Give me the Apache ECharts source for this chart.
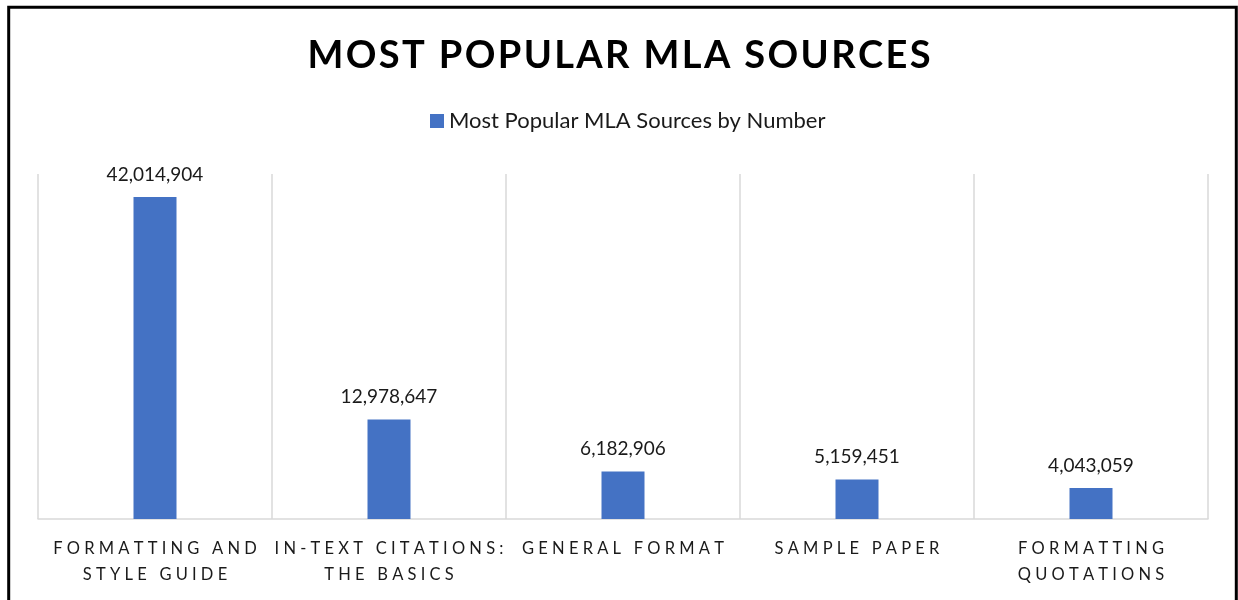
<!DOCTYPE html>
<html>
<head>
<meta charset="utf-8">
<title>Most Popular MLA Sources</title>
<script src="https://cdn.jsdelivr.net/npm/echarts@6/dist/echarts.min.js"></script>
<style>
  html, body { margin: 0; padding: 0; background: #fff; }
  #chart { width: 1238px; height: 600px; }
</style>
</head>
<body>
<div id="chart"></div>
<script>
  // data
  var categories = ['FORMATTING AND\nSTYLE GUIDE', 'IN-TEXT CITATIONS:\nTHE BASICS', 'GENERAL FORMAT', 'SAMPLE PAPER', 'FORMATTING\nQUOTATIONS'];
  var visits = [42014904, 12978647, 6182906, 5159451, 4043059];
  var seriesName = 'Most Popular MLA Sources by Number';
  var titleText = 'MOST POPULAR MLA SOURCES';
  var yMax = 45000000;

  // spread letters out like the wide tracking of the original axis labels
  function spaced(s) {
    return s.split('\n').map(function (line) {
      return line.split(' ').map(function (w) { return w.split('').join(' '); }).join('   ');
    }).join('\n');
  }
  // light tracking for the title (hair spaces)
  function tracked(s) {
    return s.split('').join('\u200A');
  }

  var chart = echarts.init(document.getElementById('chart'));
  var option = {
    backgroundColor: '#fff',
    textStyle: { fontFamily: 'Lato' },
    title: {
      text: tracked(titleText),
      left: 'center',
      top: 32,
      textStyle: { fontFamily: 'Lato', fontSize: 38, fontWeight: 'bold', color: '#000' }
    },
    legend: {
      data: [seriesName],
      left: 425,
      top: 105,
      icon: 'rect',
      itemWidth: 14,
      itemHeight: 14,
      itemGap: 5,
      textStyle: { fontFamily: 'Lato', fontSize: 22, color: '#1a1a1a' }
    },
    grid: { left: 38, right: 30, top: 174, bottom: 81 },
    xAxis: {
      type: 'category',
      data: categories,
      axisLine: { lineStyle: { color: '#d9d9d9', width: 1.5 } },
      axisTick: { show: false },
      splitLine: { show: true, interval: 0, lineStyle: { color: '#d9d9d9', width: 1.5 } },
      axisLabel: {
        interval: 0,
        margin: 17,
        fontFamily: 'Lato',
        fontSize: 16.5,
        lineHeight: 26,
        color: '#1a1a1a',
        formatter: function (v) { return spaced(v); }
      }
    },
    yAxis: {
      type: 'value',
      min: 0,
      max: yMax,
      show: false,
      splitLine: { show: false }
    },
    series: [{
      name: seriesName,
      type: 'bar',
      data: visits,
      barWidth: 43,
      itemStyle: { color: '#4472c4' },
      label: {
        show: true,
        position: 'top',
        distance: 13,
        fontFamily: 'Lato',
        fontSize: 19,
        color: '#1a1a1a',
        formatter: function (p) { return p.value.toLocaleString('en-US'); }
      }
    }],
    graphic: [{
      type: 'rect',
      shape: { x: 8.7, y: 7.3, width: 1227.6, height: 700 },
      style: { fill: 'none', stroke: '#000', lineWidth: 3 },
      silent: true
    }]
  };
  chart.setOption(option);
  window.addEventListener('resize', function () {
    chart.resize();
  });
</script>
</body>
</html>
